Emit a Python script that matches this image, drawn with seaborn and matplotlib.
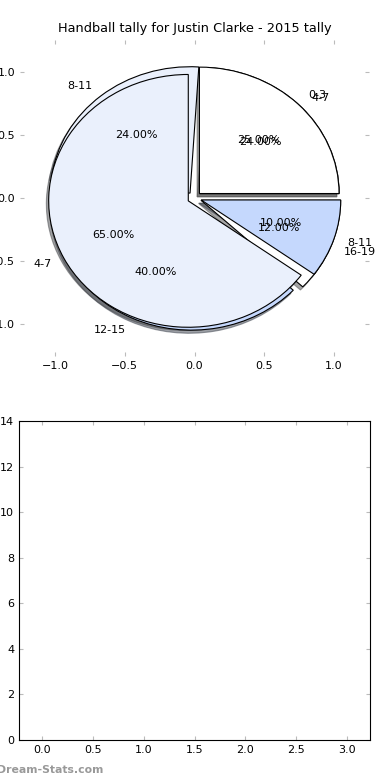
import seaborn as sns
import matplotlib.pyplot as plt

labels_a = ["0-3", "4-7", "8-11"]
values_a = [25, 65, 10]

labels_b = ["4-7", "8-11", "12-15", "16-19"]
values_b = [24, 24, 40, 12]

slice_colors = ["white", "#eaf0fc", "#c5d8fd"]

sns.set_style("white", {
    "xtick.direction": "in",
    "ytick.direction": "in",
    "xtick.color": "#bbbbbb",
    "ytick.color": "#bbbbbb",
    "text.color": "black",
})
plt.rcParams["font.family"] = ["DejaVu Sans"]
plt.rcParams["font.size"] = 8
plt.rcParams["xtick.labelcolor"] = "black"
plt.rcParams["ytick.labelcolor"] = "black"
plt.rcParams["xtick.major.size"] = 3
plt.rcParams["ytick.major.size"] = 3

fig = plt.figure(figsize=(3.9, 7.8), dpi=100)
ax1 = fig.add_axes([20 / 390, 1 - 356 / 780, 349 / 390, 316 / 780])
ax2 = fig.add_axes([19 / 390, 1 - 740 / 780, 351 / 390, 319 / 780])

wedge_style = {"edgecolor": "black", "linewidth": 0.8}
shadow_style = {"ox": -0.012, "oy": -0.018}

# second series first, the first one sits on top of it
ax1.pie(values_b, labels=labels_b, colors=slice_colors + ["white"],
        explode=[0.05] * len(values_b), autopct="%.2f%%", shadow=shadow_style,
        wedgeprops=wedge_style, frame=False,
        textprops={"fontsize": 8, "color": "black"})
ax1.pie(values_a, labels=labels_a, colors=slice_colors,
        explode=[0.05] * len(values_a), autopct="%.2f%%", shadow=shadow_style,
        wedgeprops=wedge_style, frame=False,
        textprops={"fontsize": 8, "color": "black"})
ax1.set_aspect("auto")
ax1.set_xlim(-1.25, 1.25)
ax1.set_ylim(-1.25, 1.25)
ax1.set_xticks([-1.0, -0.5, 0.0, 0.5, 1.0])
ax1.set_yticks([-1.0, -0.5, 0.0, 0.5, 1.0])
ax1.tick_params(which="both", top=True, right=True, bottom=True, left=True,
                labelsize=8)
ax1.set_title("Handball tally for Justin Clarke - 2015 tally", fontsize=9.3,
              color="black")

ax2.set_xlim(-0.225, 3.225)
ax2.set_ylim(0, 14)
ax2.set_xticks([0.0, 0.5, 1.0, 1.5, 2.0, 2.5, 3.0])
ax2.set_yticks(range(0, 15, 2))
ax2.tick_params(top=True, right=True, bottom=True, left=True, labelsize=8)
for side in ax2.spines.values():
    side.set_color("black")
    side.set_linewidth(0.8)

fig.text(-0.008, 0.013, "Dream-Stats.com", fontsize=7.8, fontweight="bold",
         color="#999999", ha="left", va="center")

fig.savefig("out.png", dpi=100)
